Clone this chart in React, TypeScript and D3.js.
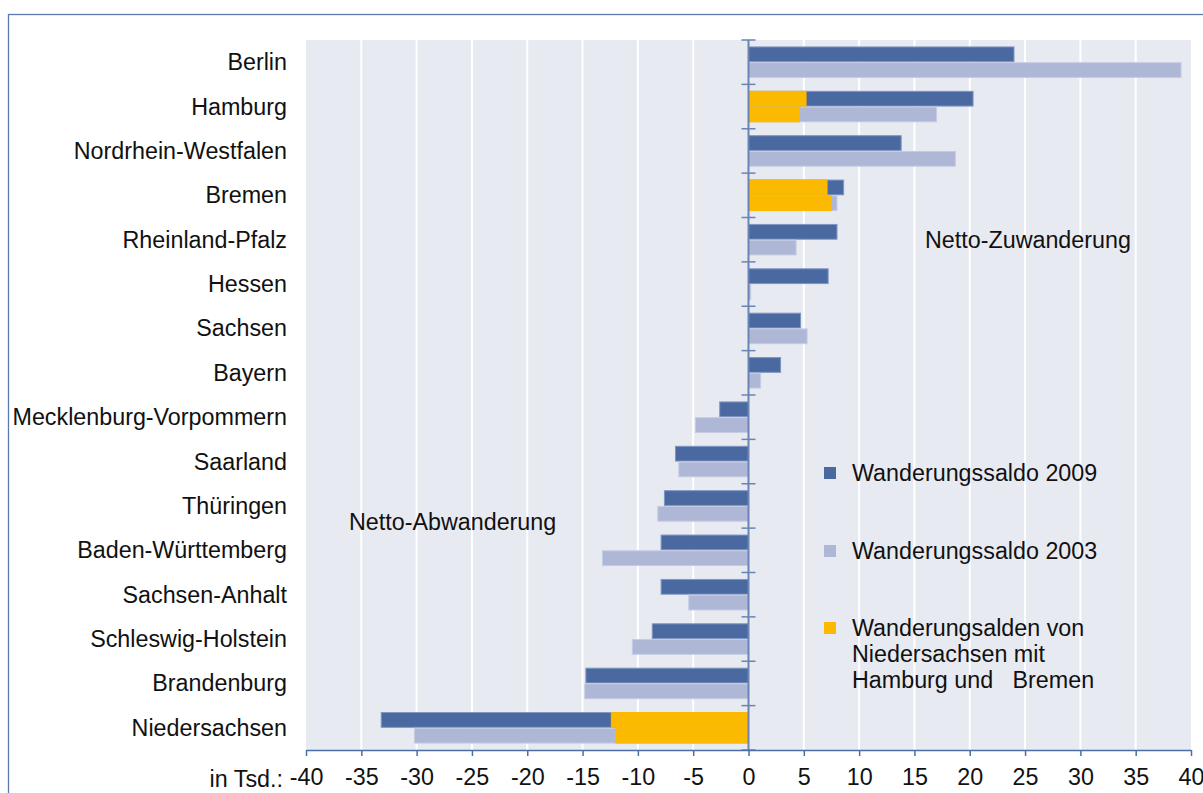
import React, { useEffect, useRef } from 'react';
import * as d3 from 'd3';

// Wanderungssaldo by Bundesland, in thousands
const states = [
    'Berlin', 'Hamburg', 'Nordrhein-Westfalen', 'Bremen', 'Rheinland-Pfalz', 'Hessen',
    'Sachsen', 'Bayern', 'Mecklenburg-Vorpommern', 'Saarland', 'Thüringen',
    'Baden-Württemberg', 'Sachsen-Anhalt', 'Schleswig-Holstein', 'Brandenburg', 'Niedersachsen',
];
const saldo2009 = [24.0, 20.3, 13.8, 8.6, 8.0, 7.2, 4.7, 2.9, -2.6, -6.6, -7.6, -7.9, -7.9, -8.7, -14.7, -33.2];
const saldo2003 = [39.1, 17.0, 18.7, 8.0, 4.3, 0.2, 5.3, 1.1, -4.8, -6.3, -8.2, -13.2, -5.4, -10.5, -14.8, -30.2];
// share of Niedersachsen with Hamburg / Bremen
const nds2009 = [null, 5.2, null, 7.1, null, null, null, null, null, null, null, null, null, null, null, -12.4];
const nds2003 = [null, 4.6, null, 7.5, null, null, null, null, null, null, null, null, null, null, null, -12.0];
const xTicks = [-40, -35, -30, -25, -20, -15, -10, -5, 0, 5, 10, 15, 20, 25, 30, 35, 40];
const seriesKeys = ['2009', '2003'];
const legendItems = [
    { color: '#4A69A0', lines: ['Wanderungssaldo 2009'] },
    { color: '#AFB7D6', lines: ['Wanderungssaldo 2003'] },
    { color: '#FBBA00', lines: ['Wanderungsalden von', 'Niedersachsen mit', 'Hamburg und   Bremen'] },
];

const WIDTH = 1203;
const HEIGHT = 793;
const FONT = '"Liberation Sans", Arial, sans-serif';
const FS = 23.3;

export default function App() {
    const ref = useRef<SVGSVGElement | null>(null);

    useEffect(() => {
        const svg = d3.select(ref.current);
        svg.selectAll('*').remove();

        const left = 306, right = 1191, top = 40, bottom = 750;

        const x = d3.scaleLinear().domain([-40, 40]).range([left, right]);
        const y = d3.scaleBand().domain(states).range([top, bottom]).padding(0);
        const ySub = d3.scaleBand().domain(seriesKeys).range([0, y.bandwidth()])
            .paddingInner(0.0625).paddingOuter(0.44);

        // outer frame
        svg.append('rect')
            .attr('x', 8.5).attr('y', 14.5)
            .attr('width', 1400).attr('height', 1000)
            .attr('fill', '#fff')
            .attr('stroke', '#5A7AB0')
            .attr('stroke-width', 1.3);

        // plot background
        svg.append('rect')
            .attr('x', left).attr('y', top)
            .attr('width', right - left).attr('height', bottom - top)
            .attr('fill', '#E8EAF2');

        // grid lines
        svg.append('g')
            .selectAll('line')
            .data(xTicks.filter(t => t !== 0 && t !== -40 && t !== 40))
            .enter().append('line')
            .attr('x1', d => x(d)).attr('x2', d => x(d))
            .attr('y1', top).attr('y2', bottom)
            .attr('stroke', '#fff')
            .attr('stroke-width', 2);

        const bars = svg.append('g');
        const drawBars = (vals: (number | null)[], key: string, color: string, stroke: string) => {
            const data = vals.map((v, i) => ({ v, s: states[i] })).filter(d => d.v !== null) as { v: number, s: string }[];
            bars.selectAll(null)
                .data(data).enter()
                .append('rect')
                .attr('x', d => x(Math.min(0, d.v)))
                .attr('width', d => Math.abs(x(d.v) - x(0)))
                .attr('y', d => (y(d.s) as number) + (ySub(key) as number))
                .attr('height', ySub.bandwidth())
                .attr('fill', color)
                .attr('stroke', stroke)
                .attr('stroke-width', 1);
        };
        drawBars(saldo2009, '2009', '#4A69A0', '#7F96C2');
        drawBars(saldo2003, '2003', '#AFB7D6', '#C6CCE2');
        drawBars(nds2009, '2009', '#FBBA00', '#FBBA00');
        drawBars(nds2003, '2003', '#FBBA00', '#FBBA00');

        // zero axis with category ticks
        svg.append('line')
            .attr('x1', x(0)).attr('x2', x(0))
            .attr('y1', top).attr('y2', bottom)
            .attr('stroke', '#6A84B5')
            .attr('stroke-width', 2);
        const boundaries = states.map(s => y(s) as number).concat([bottom]);
        svg.append('g')
            .selectAll('line')
            .data(boundaries).enter()
            .append('line')
            .attr('x1', x(0) - 7).attr('x2', x(0) + 7)
            .attr('y1', d => d).attr('y2', d => d)
            .attr('stroke', '#6A84B5')
            .attr('stroke-width', 1.5);

        // bottom axis
        const xAxis = svg.append('g')
            .attr('transform', `translate(0, ${bottom})`)
            .call(d3.axisBottom(x).tickValues(xTicks).tickFormat(d => String(d))
                .tickSize(6).tickSizeOuter(0).tickPadding(12));
        xAxis.select('.domain').attr('stroke', '#4A6FA5').attr('stroke-width', 1.5);
        xAxis.selectAll('.tick line').attr('stroke', '#4A6FA5').attr('stroke-width', 1.5);
        xAxis.selectAll('.tick text')
            .attr('font-family', FONT)
            .attr('font-size', FS)
            .attr('fill', '#111');

        svg.append('text')
            .attr('x', 283).attr('y', 787)
            .attr('text-anchor', 'end')
            .attr('font-family', FONT).attr('font-size', FS).attr('fill', '#111')
            .text('in Tsd.:');

        // category labels
        svg.append('g')
            .selectAll('text')
            .data(states).enter()
            .append('text')
            .attr('x', 287)
            .attr('y', d => (y(d) as number) + y.bandwidth() / 2 + 8)
            .attr('text-anchor', 'end')
            .attr('font-family', FONT).attr('font-size', FS).attr('fill', '#111')
            .text(d => d);

        // annotations
        svg.append('text')
            .attr('x', 925).attr('y', 248)
            .attr('font-family', FONT).attr('font-size', FS).attr('fill', '#111')
            .text('Netto-Zuwanderung');
        svg.append('text')
            .attr('x', 349).attr('y', 530)
            .attr('font-family', FONT).attr('font-size', FS).attr('fill', '#111')
            .text('Netto-Abwanderung');

        // legend
        const legendY = [473, 551, 628];
        legendItems.forEach((item, i) => {
            const g = svg.append('g').attr('transform', `translate(824, ${legendY[i]})`);
            g.append('rect')
                .attr('x', 0).attr('y', -6)
                .attr('width', 12).attr('height', 12)
                .attr('fill', item.color);
            item.lines.forEach((line, j) => {
                g.append('text')
                    .attr('x', 28).attr('y', 8 + j * 26)
                    .attr('font-family', FONT).attr('font-size', FS).attr('fill', '#111')
                    .style('white-space', 'pre')
                    .text(line);
            });
        });
    }, []);

    return (
        <svg ref={ref} width={WIDTH} height={HEIGHT}
            style={{ position: 'absolute', left: 0, top: 0, background: '#fff' }} />
    );
}
